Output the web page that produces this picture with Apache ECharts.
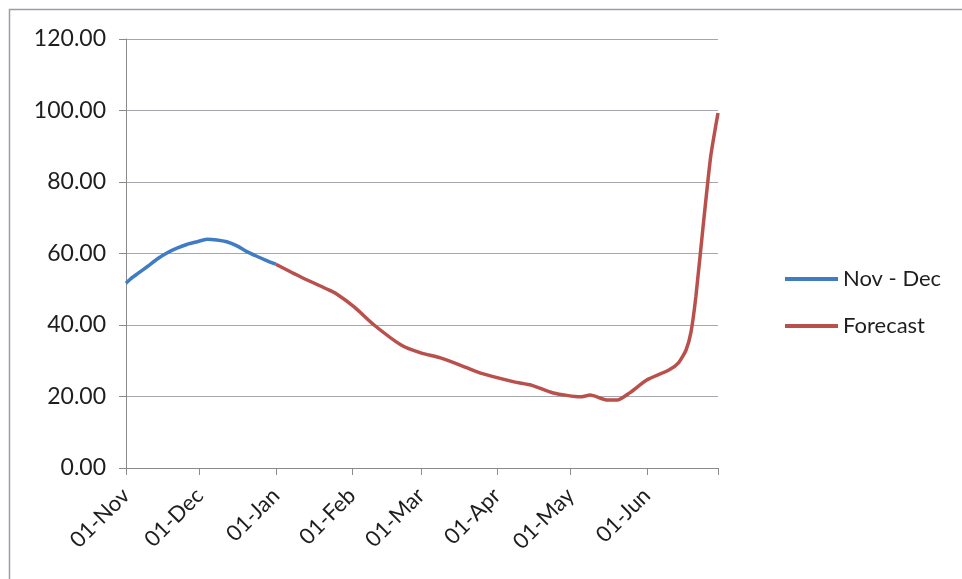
<!DOCTYPE html>
<html>
<head>
<meta charset="utf-8">
<script src="https://cdn.jsdelivr.net/npm/echarts@6/dist/echarts.min.js"></script>
<style>
  html, body {margin: 0; padding: 0; background: #fff;}
  #chart {width: 962px; height: 579px;}
</style>
</head>
<body>
<div id="chart"></div>
<script>
// daily categories, 01-Nov .. 30-Jun
const MONTHS = ["Jan", "Feb", "Mar", "Apr", "May", "Jun", "Jul", "Aug", "Sep", "Oct", "Nov", "Dec"];
const days = [];
for (let d = new Date(Date.UTC(2010, 10, 1)); d <= new Date(Date.UTC(2011, 5, 30)); d.setUTCDate(d.getUTCDate() + 1)) {
  days.push(String(d.getUTCDate()).padStart(2, "0") + "-" + MONTHS[d.getUTCMonth()]);
}

const yTicks = [0, 20, 40, 60, 80, 100, 120];

const novDecDates = ["01-Nov", "03-Nov", "06-Nov", "10-Nov", "14-Nov", "18-Nov", "22-Nov", "26-Nov", "30-Nov",
  "04-Dec", "08-Dec", "12-Dec", "16-Dec", "20-Dec", "24-Dec", "28-Dec", "01-Jan"];
const novDecValues = [51.7, 53.0, 54.5, 56.5, 58.6, 60.3, 61.6, 62.6, 63.3,
  64.0, 63.8, 63.3, 62.2, 60.6, 59.3, 58.1, 57.0];

const forecastDates = ["01-Jan", "11-Jan", "22-Jan", "25-Jan", "02-Feb", "10-Feb", "21-Feb", "01-Mar", "09-Mar",
  "17-Mar", "25-Mar", "08-Apr", "15-Apr", "24-Apr", "05-May", "09-May", "16-May", "20-May", "25-May",
  "01-Jun", "10-Jun", "14-Jun", "17-Jun", "19-Jun", "21-Jun", "24-Jun", "27-Jun", "30-Jun"];
const forecastValues = [57.0, 53.5, 50.0, 49.0, 45.0, 40.0, 34.4, 32.2, 30.8,
  28.8, 26.6, 24.1, 23.2, 21.0, 19.9, 20.4, 19.0, 19.0, 21.0,
  24.6, 27.4, 29.5, 33.0, 38.0, 48.0, 68.0, 87.0, 99.3];

const FONT = "Lato";
const TEXT = "#1e1e1e";
const GRID_LINE = "#a6a6ae";

const chart = echarts.init(document.getElementById("chart"));
const last = days.length - 1;

chart.setOption({
  animation: false,
  textStyle: {fontFamily: FONT},
  graphic: [{
    type: "rect",
    shape: {x: 9.5, y: 9.5, width: 1200, height: 1200},
    style: {fill: "none", stroke: "#9c9cab", lineWidth: 1.5},
    silent: true,
  }],
  grid: {left: 126, right: 244, top: 39, bottom: 111},
  legend: {
    orient: "vertical",
    left: 780,
    top: 263,
    icon: "rect",
    itemWidth: 53,
    itemHeight: 4,
    itemGap: 25,
    textStyle: {fontSize: 22, color: TEXT, fontFamily: FONT},
    data: ["Nov - Dec", "Forecast"],
  },
  xAxis: {
    type: "category",
    data: days,
    boundaryGap: false,
    axisLine: {lineStyle: {color: "#8a8a8a", width: 1}},
    axisTick: {
      length: 7,
      lineStyle: {color: "#8a8a8a"},
      interval: (i, v) => v.startsWith("01-") || i === last,
    },
    axisLabel: {
      rotate: 45,
      margin: 24,
      fontSize: 22,
      color: TEXT,
      fontFamily: FONT,
      interval: (i, v) => v.startsWith("01-"),
    },
    splitLine: {show: false},
  },
  yAxis: {
    type: "value",
    min: yTicks[0],
    max: yTicks[yTicks.length - 1],
    interval: yTicks[1] - yTicks[0],
    axisLine: {show: true, lineStyle: {color: "#8a8a8a", width: 1}},
    axisTick: {show: true, length: 7, lineStyle: {color: "#8a8a8a"}},
    axisLabel: {
      margin: 20,
      fontSize: 23,
      color: TEXT,
      fontFamily: FONT,
      formatter: v => v.toFixed(2),
    },
    splitLine: {lineStyle: {color: GRID_LINE, width: 1}},
  },
  series: [
    {
      name: "Nov - Dec",
      type: "line",
      data: novDecDates.map((d, i) => [d, novDecValues[i]]),
      showSymbol: false,
      smooth: 0.2,
      lineStyle: {color: "#3f7cc4", width: 3.5},
      itemStyle: {color: "#3f7cc4"},
    },
    {
      name: "Forecast",
      type: "line",
      data: forecastDates.map((d, i) => [d, forecastValues[i]]),
      showSymbol: false,
      smooth: 0.2,
      lineStyle: {color: "#b9504c", width: 3.5},
      itemStyle: {color: "#b9504c"},
    },
  ],
});
</script>
</body>
</html>
